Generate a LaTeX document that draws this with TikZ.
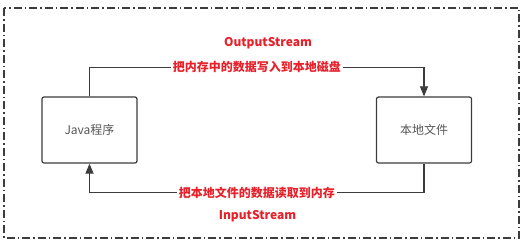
\documentclass[tikz,border=0pt]{standalone}
\usepackage{fontspec}
\setmainfont{Noto Sans CJK SC}
\usetikzlibrary{arrows.meta}
\definecolor{labelRed}{RGB}{232,32,42}
\definecolor{lineGray}{RGB}{60,60,60}
\definecolor{textGray}{RGB}{85,85,85}

\begin{document}
\begin{tikzpicture}[x=1pt, y=-1pt,
rectFrame/.style={draw=lineGray, line width=1.1pt, dash pattern=on 8pt off 3pt on 1.5pt off 3pt},
rectBox/.style={rectangle, draw=lineGray, line width=1.2pt, rounded corners=2pt, minimum width=95pt, minimum height=66pt, align=center, font=\fontsize{12}{14}\selectfont, text=textGray},
lineFlow/.style={draw=lineGray, line width=1.1pt, -{Triangle[length=10pt, width=8pt]}},
rectLabel/.style={fill=white, inner sep=2pt, text=labelRed, font=\fontsize{12}{14}\selectfont\bfseries},
rectStream/.style={text=labelRed, font=\fontsize{12}{14}\selectfont\bfseries}]

\useasboundingbox (0,0) rectangle (525,244);
\draw[rectFrame] (4,8) rectangle (519,238);

\node[rectBox] (java) at (89.5, 130) {Java程序};
\node[rectBox] (file) at (424, 130) {本地文件};

\node[rectStream] (output) at (268, 43) {OutputStream};
\node[rectStream] (input) at (257.5, 216) {InputStream};

% write: program -> disk
\draw[lineFlow] (java.north) -- ++(0,-29) -| node[rectLabel, pos=0.25] {把内存中的数据写入到本地磁盘} (file.north);
% read: disk -> program
\draw[lineFlow] (file.south) -- ++(0,29) -| node[rectLabel, pos=0.25] {把本地文件的数据读取到内存} (java.south);

\end{tikzpicture}
\end{document}
